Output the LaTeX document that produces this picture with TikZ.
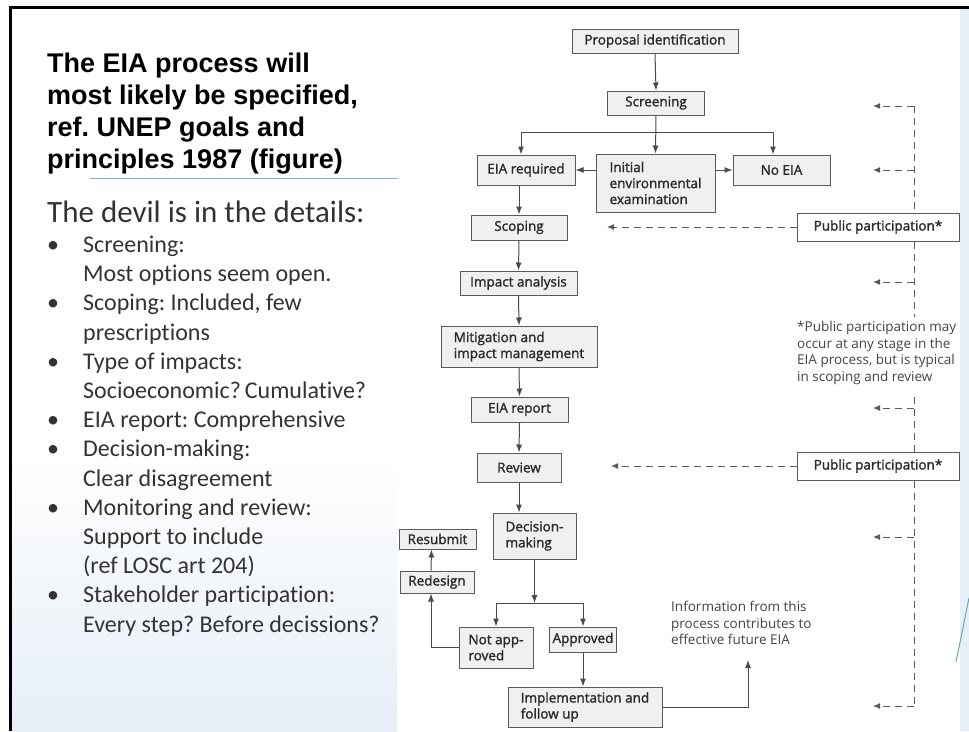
\documentclass[tikz,border=0pt]{standalone}
\usepackage{fontspec}
\setmainfont{Carlito}[Ligatures=NoCommon]
\newfontfamily\titlefont{Liberation Sans}
\newfontfamily\figfont{Open Sans}
\newfontfamily\figbold{Open Sans}[FakeBold=1.6]
\usetikzlibrary{arrows.meta,calc}
\definecolor{boxfill}{HTML}{F0F0F0}
\definecolor{boxline}{HTML}{5A5A5A}
\definecolor{figtext}{HTML}{2A2A2A}
\definecolor{notetext}{HTML}{444444}
\definecolor{ulblue}{HTML}{7FB0C6}
\definecolor{slideblue}{HTML}{E6EEF7}
\definecolor{bodytext}{HTML}{333333}
\frenchspacing
\begin{document}
\begin{tikzpicture}[x=1pt,y=-1pt,
  box/.style={draw=boxline, fill=boxfill, line width=1pt, inner sep=0pt, font=\figbold\fontsize{13.5}{16}\selectfont, text=figtext, align=left},
  ppbox/.style={box, fill=white},
  lin/.style={draw=figtext!85, line width=1pt},
  arr/.style={lin, -{Latex[length=8pt,width=6pt]}},
  dline/.style={draw=boxline, line width=1pt, dash pattern=on 7pt off 5pt},
  dasharr/.style={dline, -{Latex[length=7pt,width=6pt]}},
  ttl/.style={font=\titlefont\bfseries\fontsize{27}{32}\selectfont, anchor=base west, inner sep=0pt},
  body/.style={font=\fontsize{24}{29}\selectfont, text=bodytext, anchor=base west, inner sep=0pt},
  note/.style={font=\figfont\fontsize{13.5}{16.6}\selectfont, text=notetext, align=left, inner sep=0pt, anchor=north west}
]
\useasboundingbox (0,0) rectangle (969,731);
\fill[white] (0,0) rectangle (969,731);
% slide background
\shade[top color=white, bottom color=slideblue] (12,450) rectangle (397,731);
\fill[slideblue] (960,9) rectangle (969,731);
\draw[ulblue!80!teal, line width=1pt] (969,598) -- (956,662);
\draw[black, line width=3pt] (10,7) -- (969,7);
\draw[black, line width=3pt] (10,5.5) -- (10,731);

% title
\node[ttl] (t1) at (47,72) {The EIA process will};
\node[ttl] (t2) at (47,104) {most likely be specified,};
\node[ttl] (t3) at (47,136) {ref. UNEP goals and};
\node[ttl] (t4) at (47,168) {principles 1987 (figure)};
\draw[ulblue, line width=1pt] (90,178) -- (398,178);

\node[body, font=\fontsize{31}{36}\selectfont] (dev) at (47,222) {The devil is in the details:};
\foreach \yy/\nm in {252/b1,310/b2,369/b3,427/b4,456/b5,515/b6,602/b7}
  \node[body] (\nm) at (47,\yy) {\textbullet};
\node[body] (l1) at (83,252) {Screening:};
\node[body] (l2) at (83,281) {Most options seem open.};
\node[body] (l3) at (83,310) {Scoping: Included, few};
\node[body] (l4) at (83,340) {prescriptions};
\node[body] (l5) at (83,369) {Type of impacts:};
\node[body] (l6) at (83,398) {Socioeconomic?\,Cumulative?};
\node[body] (l7) at (83,427) {EIA report: Comprehensive};
\node[body] (l8) at (83,456) {Decision-making:};
\node[body] (l9) at (83,486) {Clear disagreement};
\node[body] (l10) at (83,515) {Monitoring and review:};
\node[body] (l11) at (83,544) {Support to include};
\node[body] (l12) at (83,573) {(ref LOSC art 204)};
\node[body] (l13) at (83,602) {Stakeholder participation:};
\node[body] (l14) at (83,632) {Every step? Before decissions?};

% flowchart boxes
\node[box, minimum width=166pt, minimum height=24pt] (prop) at (655,41) {Proposal identification};
\node[box, minimum width=97pt, minimum height=24pt] (screen) at (656,103) {Screening};
\node[box, minimum width=98pt, minimum height=30pt] (eiareq) at (526,170) {EIA required};
\node[box, minimum width=119pt, minimum height=58pt] (iee) at (655.5,183) {Initial\\environmental\\examination};
\node[box, minimum width=97pt, minimum height=30pt] (noeia) at (781.5,170) {No EIA};
\node[box, minimum width=96pt, minimum height=25pt] (scoping) at (519,227.5) {Scoping};
\node[ppbox, minimum width=162pt, minimum height=28pt] (pp1) at (878,227) {Public participation*};
\node[box, minimum width=117pt, minimum height=24pt] (impact) at (518.5,283) {Impact analysis};
\node[box, minimum width=156pt, minimum height=41pt] (mitig) at (519,346.5) {Mitigation and\\impact management};
\node[box, minimum width=97pt, minimum height=25pt] (report) at (519.5,409.5) {EIA report};
\node[box, minimum width=84pt, minimum height=29pt] (review) at (519,467.5) {Review};
\node[ppbox, minimum width=162pt, minimum height=28pt] (pp2) at (878,466) {Public participation*};
\node[box, minimum width=83pt, minimum height=46pt] (decision) at (534.5,536) {Decision-\\making};
\node[box, minimum width=77pt, minimum height=20pt] (resubmit) at (437.5,539) {Resubmit};
\node[box, minimum width=74pt, minimum height=22pt] (redesign) at (437,582) {Redesign};
\node[box, minimum width=74pt, minimum height=41pt] (notapp) at (496,647.5) {Not app-\\roved};
\node[box, minimum width=67pt, minimum height=25pt] (approved) at (583,639.5) {Approved};
\node[box, minimum width=154pt, minimum height=40pt] (impl) at (585,707) {Implementation and\\follow up};

\node[note] (fn) at (797,321) {*Public participation may\\occur at any stage in the\\EIA process, but is typical\\in scoping and review};
\node[note] (info) at (671,601) {Information from this\\process contributes to\\effective future EIA};

% solid connectors
\draw[arr] (prop.south) -- (screen.north);
\coordinate (sl) at (521,132);
\coordinate (sr) at (773,132);
\draw[lin] (sl) -- (sr);
\draw[arr] (screen.south) -- (iee.north);
\draw[arr] (sl) -- (sl |- eiareq.north);
\draw[arr] (sr) -- (sr |- noeia.north);
\draw[arr] (iee.west |- eiareq) -- (eiareq.east);
\draw[arr] (iee.east |- noeia) -- (noeia.west);
\draw[arr] (scoping.north |- eiareq.south) -- (scoping.north);
\draw[arr] (scoping.south) -- (impact.north);
\draw[arr] (impact.south) -- (mitig.north);
\draw[arr] (mitig.south) -- (report.north);
\draw[arr] (report.south) -- (review.north);
\draw[arr] (review.south) -- (review.south |- decision.north);
\coordinate (dsplit) at (534.5,603);
\draw[arr] (decision.south) -- (dsplit);
\draw[lin] (dsplit -| notapp) -- (dsplit -| approved);
\draw[arr] (dsplit -| notapp) -- (notapp.north);
\draw[arr] (dsplit -| approved) -- (approved.north);
\draw[arr] (approved.south) -- (approved.south |- impl.north);
\draw[arr] (notapp.west) -| ([xshift=-6pt]redesign.south);
\draw[arr] ([xshift=-6pt]redesign.north) -- ([xshift=-6pt]resubmit.south);
\coordinate (infotip) at (748,660);
\draw[arr] (impl.east) -| (infotip);

% dashed participation lines
\coordinate (vtop) at (914,106);
\coordinate (vbot) at (914,706);
\coordinate (g1) at (914,317);
\coordinate (g2) at (914,397);
\draw[dline] (vtop) -- (pp1.north -| vtop);
\draw[dline] (pp1.south -| vtop) -- (g1);
\draw[dline] (g2) -- (pp2.north -| vtop);
\draw[dline] (pp2.south -| vtop) -- (vbot);
\foreach \yy/\nm in {106/a1,170/a2,282/a3,408/a4,537/a5,706/a6}{
  \coordinate (\nm) at (873,\yy);
  \draw[dasharr] (914,\yy) -- (\nm);
}
\coordinate (scin) at (607,227);
\coordinate (rvin) at (611,466);
\draw[dasharr] (pp1.west) -- (scin);
\draw[dasharr] (pp2.west) -- (rvin);
\end{tikzpicture}
\end{document}
